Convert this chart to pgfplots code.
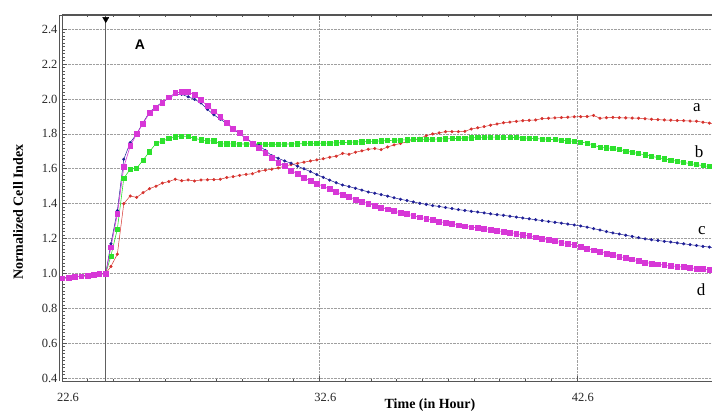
\documentclass[border=0pt]{standalone}
\usepackage{pgfplots}
\usepackage{pgfplotstable}
\pgfplotsset{compat=1.18}
\usepackage{fontspec}
\setmainfont{Liberation Serif}
\newfontfamily\sansA{Liberation Sans}
\definecolor{cred}{RGB}{214,50,45}
\definecolor{cgreen}{RGB}{45,225,45}
\definecolor{cblue}{RGB}{30,30,150}
\definecolor{cmag}{RGB}{215,55,215}
\definecolor{cframe}{RGB}{85,85,85}
\pgfplotstableread{
t a b c d
22.60 0.972 0.972 0.972 0.972
22.85 0.976 0.976 0.976 0.976
23.10 0.980 0.980 0.980 0.980
23.35 0.984 0.984 0.984 0.984
23.60 0.988 0.988 0.988 0.988
23.85 0.992 0.992 0.992 0.992
24.05 0.996 0.996 0.996 0.996
24.30 1.000 1.000 1.000 1.000
24.50 1.04 1.10 1.17 1.15
24.75 1.11 1.255 1.36 1.34
25.00 1.40 1.545 1.655 1.61
25.25 1.444 1.598 1.75 1.73
25.50 1.436 1.603 1.80 1.80
25.75 1.463 1.65 1.865 1.86
26.00 1.486 1.698 1.925 1.92
26.25 1.50 1.745 1.956 1.95
26.50 1.518 1.76 1.982 1.98
26.75 1.527 1.773 2.005 2.01
27.00 1.54 1.783 2.027 2.035
27.25 1.532 1.788 2.027 2.04
27.50 1.536 1.785 2.013 2.04
27.75 1.53 1.775 1.998 2.025
28.00 1.536 1.766 1.978 1.995
28.25 1.537 1.76 1.94 1.96
28.50 1.538 1.76 1.91 1.93
28.75 1.54 1.743 1.884 1.90
29.00 1.55 1.743 1.86 1.865
29.25 1.555 1.743 1.83 1.83
29.50 1.562 1.742 1.80 1.805
29.75 1.568 1.742 1.775 1.775
30.00 1.572 1.742 1.75 1.745
30.25 1.586 1.742 1.735 1.72
30.50 1.592 1.741 1.705 1.69
30.75 1.598 1.741 1.675 1.665
31.00 1.605 1.741 1.66 1.635
31.25 1.615 1.742 1.645 1.615
31.50 1.624 1.742 1.632 1.59
31.75 1.631 1.743 1.615 1.572
32.00 1.638 1.744 1.60 1.548
32.25 1.645 1.745 1.584 1.53
32.50 1.651 1.746 1.567 1.515
32.75 1.658 1.747 1.551 1.50
33.00 1.666 1.748 1.535 1.483
33.25 1.672 1.749 1.52 1.468
33.50 1.688 1.75 1.507 1.452
33.75 1.683 1.752 1.498 1.44
34.00 1.695 1.754 1.488 1.424
34.25 1.703 1.755 1.478 1.412
34.50 1.712 1.757 1.467 1.40
34.75 1.716 1.758 1.46 1.39
35.00 1.71 1.76 1.452 1.378
35.25 1.725 1.762 1.443 1.368
35.50 1.737 1.763 1.434 1.357
35.75 1.745 1.765 1.425 1.348
36.00 1.755 1.766 1.418 1.34
36.25 1.765 1.767 1.41 1.331
36.50 1.775 1.768 1.402 1.322
36.75 1.79 1.769 1.396 1.314
37.00 1.80 1.77 1.389 1.306
37.25 1.806 1.771 1.384 1.298
37.50 1.813 1.772 1.378 1.29
37.75 1.813 1.773 1.372 1.283
38.00 1.813 1.774 1.366 1.276
38.25 1.815 1.776 1.361 1.27
38.50 1.828 1.778 1.356 1.265
38.75 1.835 1.78 1.352 1.262
39.00 1.842 1.781 1.347 1.257
39.25 1.85 1.782 1.342 1.252
39.50 1.857 1.782 1.337 1.245
39.75 1.864 1.781 1.333 1.24
40.00 1.868 1.78 1.328 1.235
40.25 1.872 1.779 1.323 1.228
40.50 1.876 1.777 1.318 1.221
40.75 1.878 1.775 1.313 1.214
41.00 1.88 1.773 1.308 1.207
41.25 1.888 1.771 1.303 1.2
41.50 1.89 1.769 1.298 1.193
41.75 1.892 1.767 1.293 1.185
42.00 1.894 1.764 1.288 1.177
42.25 1.896 1.761 1.283 1.17
42.50 1.898 1.757 1.278 1.162
42.75 1.899 1.753 1.272 1.153
43.00 1.90 1.748 1.265 1.143
43.25 1.906 1.735 1.257 1.133
43.50 1.89 1.723 1.249 1.124
43.75 1.893 1.72 1.24 1.114
44.00 1.895 1.717 1.232 1.105
44.25 1.893 1.71 1.226 1.097
44.50 1.892 1.702 1.219 1.089
44.75 1.891 1.695 1.212 1.081
45.00 1.89 1.687 1.205 1.072
45.25 1.887 1.68 1.198 1.063
45.50 1.884 1.672 1.193 1.057
45.75 1.882 1.664 1.189 1.052
46.00 1.88 1.657 1.184 1.048
46.25 1.879 1.65 1.18 1.044
46.50 1.877 1.643 1.175 1.04
46.75 1.876 1.636 1.17 1.036
47.00 1.874 1.63 1.165 1.032
47.25 1.873 1.624 1.16 1.028
47.50 1.867 1.618 1.155 1.025
47.75 1.862 1.613 1.151 1.021
48.00 1.858 1.607 1.147 1.018
48.25 1.855 1.60 1.143 1.015
}\datatab
\begin{document}
\begin{tikzpicture}[x=1pt,y=1pt]
\begin{axis}[
  at={(62pt,29pt)}, anchor=south west,
  scale only axis, width=660pt, height=366pt,
  xmin=22.6, xmax=48.24, ymin=0.383, ymax=2.482,
  xtick={22.6,32.6,42.6},
  xticklabels={22.6,32.6,42.6},
  minor x tick num=9,
  ytick={0.4,0.6,...,2.41},
  minor y tick num=9,
  tick align=inside, tick pos=both,
  major tick length=5pt, minor tick length=2.5pt,
  tick style={cframe, line width=0.6pt},
  axis line style={cframe, line width=1pt},
  xmajorgrids, ymajorgrids,
  major grid style={densely dotted, gray!75, line width=0.6pt},
  /pgf/number format/assume math mode=true,
  yticklabel={\pgfmathprintnumber[fixed,fixed zerofill,precision=1]{\tick}},
  ticklabel style={font=\fontsize{12.5}{14}\selectfont, text=black!85},
  xticklabel style={xshift=6pt, yshift=-9pt},
  yticklabel style={xshift=-1pt},
  clip=true,
]
\addplot[cred, line width=0.5pt, mark=*, mark size=1.3pt, mark options={fill=cred, draw=cred}] table[x=t,y=a] {\datatab};
\addplot[cgreen, line width=0.6pt, mark=square*, mark size=2.1pt, mark options={fill=cgreen, draw=cgreen}] table[x=t,y=b] {\datatab};
\addplot[cblue, line width=0.5pt, mark=*, mark size=1.3pt, mark options={fill=cblue, draw=cblue}] table[x=t,y=c] {\datatab};
\addplot[cmag, line width=0.6pt, mark=square*, mark size=2.4pt, mark options={fill=cmag, draw=cmag}] table[x=t,y=d] {\datatab};
\addplot[gray!75!black, line width=1pt] coordinates {(24.3,0.383) (24.3,2.482)};
\addplot[only marks, mark=triangle*, mark size=3.5pt, mark options={rotate=180, fill=black, draw=black}] coordinates {(24.3,2.458)};
\end{axis}
\draw[cframe, line width=0.8pt] (59pt,29pt) -- (59pt,395pt) -- (712pt,395pt);
\node[rotate=90, font=\bfseries\fontsize{14}{16}\selectfont] at (18pt,198pt) {Normalized Cell Index};
\node[font=\bfseries\fontsize{14}{16}\selectfont] at (430pt,5pt) {Time (in Hour)};
\node[font=\sansA\bfseries\fontsize{14}{16}\selectfont] at (140pt,365pt) {A};
\node[font=\fontsize{17}{19}\selectfont] at (697pt,302pt) {a};
\node[font=\fontsize{17}{19}\selectfont] at (699pt,258pt) {b};
\node[font=\fontsize{17}{19}\selectfont] at (702pt,179pt) {c};
\node[font=\fontsize{17}{19}\selectfont] at (701pt,120pt) {d};
\pgfresetboundingbox
\path (0,0) rectangle (712pt,410pt);
\end{tikzpicture}
\end{document}
